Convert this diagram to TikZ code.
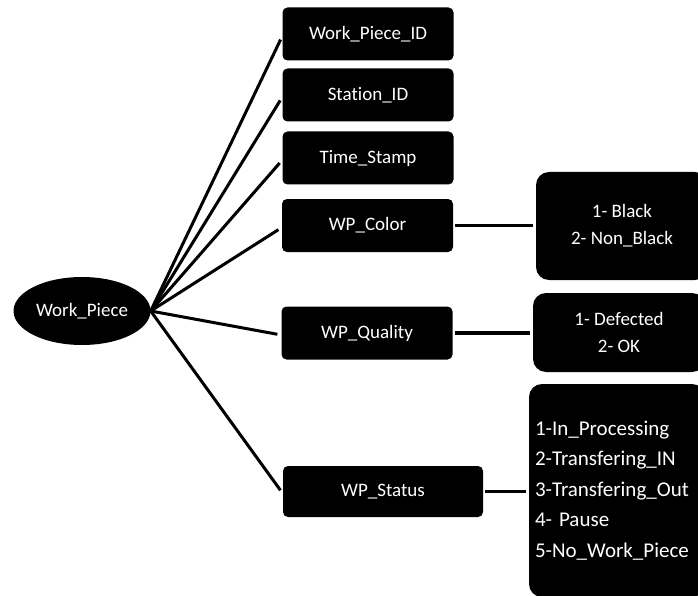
\documentclass[tikz,border=0pt]{standalone}
\usepackage{fontspec}
\setmainfont[Ligatures=NoCommon]{Carlito}
\usetikzlibrary{shapes.geometric}
\begin{document}
\begin{tikzpicture}[x=1pt,y=-1pt,
  field/.style={draw=none,fill=black,text=white,rounded corners=5pt,
    minimum width=171pt,minimum height=53pt,inner sep=0pt,
    font=\fontsize{19}{22}\selectfont},
  values/.style={draw=none,fill=black,text=white,rounded corners=13pt,
    inner sep=0pt,font=\fontsize{19}{27}\selectfont,align=center},
  spoke/.style={line width=3pt,shorten >=4pt},
  link/.style={line width=3.2pt,shorten <=2pt,shorten >=3pt}]
\useasboundingbox (0,0) rectangle (698,596);
\clip (0,0) rectangle (698,596);

% root entity
\node[ellipse,fill=black,text=white,minimum width=137pt,minimum height=68pt,
  inner sep=0pt,font=\fontsize{19}{22}\selectfont] (wp) at (82,311) {Work\_Piece};

% attribute boxes
\node[field] (wpid)    at (368,34)    {Work\_Piece\_ID};
\node[field] (station) at (368,95)    {Station\_ID};
\node[field] (time)    at (368,158)   {Time\_Stamp};
\node[field] (color)   at (367.5,225.5) {WP\_Color};
\node[field] (quality) at (367,333)   {WP\_Quality};
\node[field,minimum width=200pt,minimum height=51pt] (status) at (383,491.5) {WP\_Status};

% value boxes (running off the right edge)
\node[values,minimum width=172pt,minimum height=108pt] (colorvals) at (622,226)
  {1- Black\\2- Non\_Black};
\node[values,minimum width=172pt,minimum height=79pt] (qualvals) at (619,332.5)
  {1- Defected\\2- OK};
\node[values,align=left,text width=164pt,minimum height=213pt,inner xsep=6pt,
  font=\fontsize{21}{30.5}\selectfont] (statvals) at (617,490.5)
  {1-In\_Processing\\2-Transfering\_IN\\3-Transfering\_Out\\4- Pause\\5-No\_Work\_Piece};

% spokes from the root
\foreach \t in {wpid,station,time,color,quality,status}
  \draw[spoke] (wp.east) -- ([yshift=-2pt]\t.west);

% attribute to value links
\draw[link] (color.east)   -- (colorvals.west |- color.east);
\draw[link] (quality.east) -- (qualvals.west |- quality.east);
\draw[link] (status.east)  -- (statvals.west |- status.east);
\end{tikzpicture}
\end{document}
